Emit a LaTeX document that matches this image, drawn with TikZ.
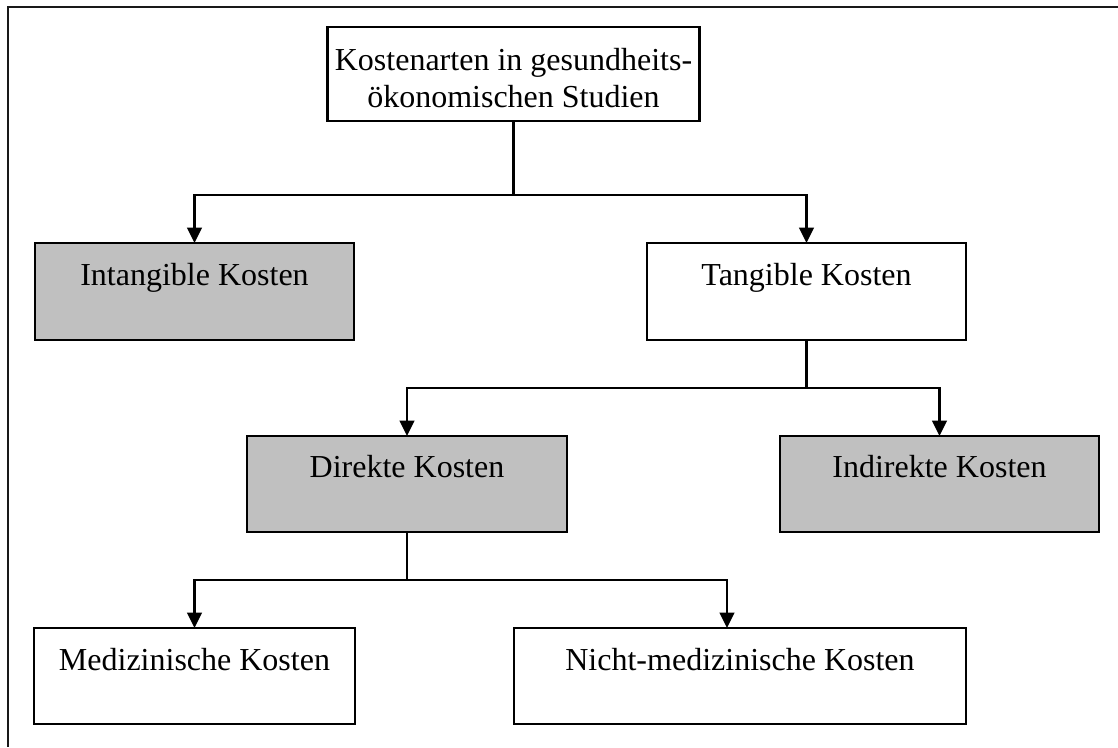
\documentclass[tikz,border=0pt]{standalone}
\usepackage{fontspec}
\setmainfont{Liberation Serif}
\usetikzlibrary{arrows.meta}
\definecolor{boxgrey}{RGB}{192,192,192}
\begin{document}
\begin{tikzpicture}[x=0.75pt,y=-0.75pt,
  box/.style={draw=black, line width=1.6pt, rectangle, inner sep=0pt, outer sep=0pt, anchor=north west},
  shaded/.style={box, fill=boxgrey},
  lbl/.style={font=\fontsize{24}{27.75}\selectfont, inner sep=0pt, anchor=base, align=center},
  conn/.style={line width=1.6pt},
  arr/.style={conn, -{Triangle[length=11.5pt,width=11pt]}},
]
\useasboundingbox (0,0) rectangle (1118,747);

% open frame: top and left edges only
\draw[line width=2.2pt, black!90] (1118,7) -- (8,7) -- (8,747);

% boxes
\node[box, minimum width=279pt, minimum height=70.5pt] (top) at (327.5,27) {};
\node[shaded, minimum width=239.25pt, minimum height=72.75pt] (int) at (35,243) {};
\node[box, minimum width=239.25pt, minimum height=72.75pt] (tan) at (647,243) {};
\node[shaded, minimum width=240pt, minimum height=72pt] (dir) at (247,436) {};
\node[shaded, minimum width=239.25pt, minimum height=72pt] (ind) at (780,436) {};
\node[box, minimum width=240.75pt, minimum height=72pt] (med) at (34,628) {};
\node[box, minimum width=339pt, minimum height=72pt] (nic) at (514,628) {};

% labels (a two-line node sits on the baseline of its last line)
\node[lbl] (top-t) at (513.5,107) {Kostenarten in gesundheits-\\ökonomischen Studien};
\node[lbl] (int-t) at (194.5,285) {Intangible Kosten};
\node[lbl] (tan-t) at (806.5,285) {Tangible Kosten};
\node[lbl] (dir-t) at (407,477) {Direkte Kosten};
\node[lbl] (ind-t) at (939.5,477) {Indirekte Kosten};
\node[lbl] (med-t) at (194.5,670) {Medizinische Kosten};
\node[lbl] (nic-t) at (740,670) {Nicht-medizinische Kosten};

% connectors
\coordinate (j1) at (513.5,195);
\coordinate (j2) at (806.5,388);
\coordinate (j3) at (407,580);
\coordinate (j3r) at (727,580);

\draw[conn] (top.south) -- (j1);
\draw[arr] (j1) -| (int.north);
\draw[arr] (j1) -| (tan.north);

\draw[conn] (tan.south) -- (j2);
\draw[arr] (j2) -| (dir.north);
\draw[arr] (j2) -| (ind.north);

\draw[conn] (dir.south) -- (j3);
\draw[arr] (j3) -| (med.north);
\draw[arr] (j3) -- (j3r) -- (j3r |- nic.north);
\end{tikzpicture}
\end{document}
